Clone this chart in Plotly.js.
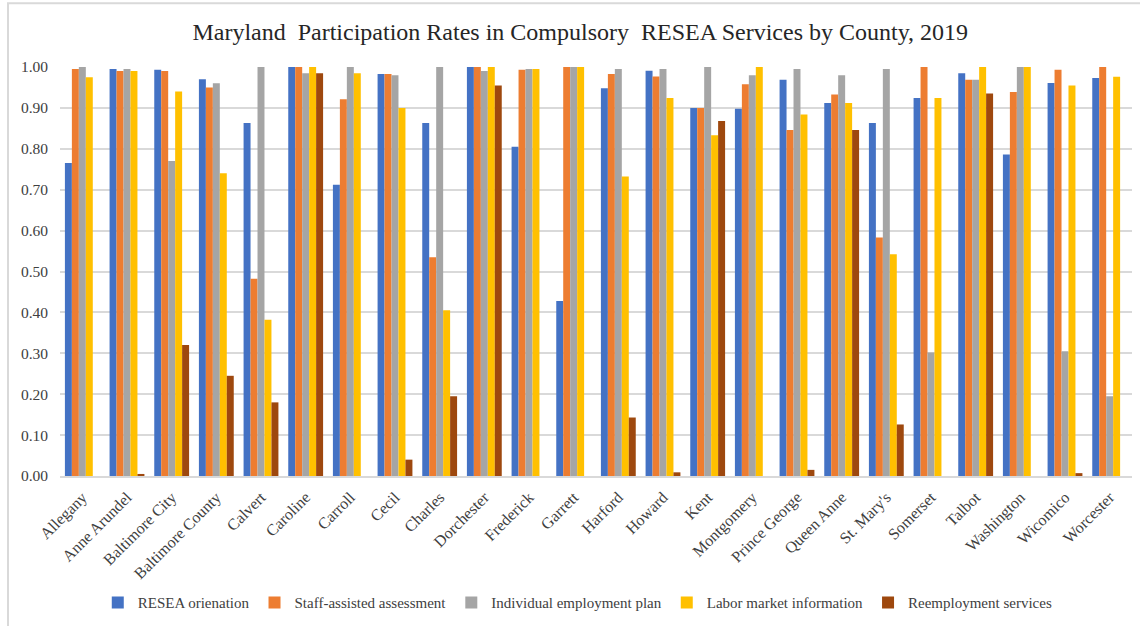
<!DOCTYPE html>
<html>
<head>
<meta charset="utf-8">
<script src="https://cdn.plot.ly/plotly-3.0.1.min.js"></script>
<style>
html,body{margin:0;padding:0;background:#fff;}
#chart{width:1140px;height:626px;}
</style>
</head>
<body>
<div id="chart"></div>
<script>
const counties = ["Allegany","Anne Arundel","Baltimore City","Baltimore County","Calvert","Caroline","Carroll","Cecil","Charles","Dorchester","Frederick","Garrett","Harford","Howard","Kent","Montgomery","Prince George","Queen Anne","St. Mary's","Somerset","Talbot","Washington","Wicomico","Worcester"];

const reseaOrientation = [0.765,0.995,0.993,0.970,0.863,1.000,0.712,0.983,0.863,1.000,0.805,0.428,0.948,0.991,0.900,0.898,0.969,0.912,0.863,0.924,0.985,0.786,0.961,0.973];
const staffAssessment  = [0.995,0.990,0.990,0.950,0.482,1.000,0.921,0.983,0.535,1.000,0.993,1.000,0.983,0.977,0.900,0.958,0.846,0.933,0.583,1.000,0.969,0.939,0.993,1.000];
const employmentPlan   = [1.000,0.995,0.770,0.960,1.000,0.985,1.000,0.980,1.000,0.990,0.995,1.000,0.995,0.995,1.000,0.980,0.995,0.980,0.995,0.302,0.969,1.000,0.305,0.195];
const laborMarketInfo  = [0.975,0.990,0.940,0.740,0.382,1.000,0.985,0.900,0.405,1.000,0.995,1.000,0.732,0.924,0.833,1.000,0.884,0.912,0.542,0.924,1.000,1.000,0.955,0.976];
const reemployment     = [0,0.005,0.320,0.245,0.180,0.985,0,0.040,0.195,0.955,0,0,0.143,0.009,0.868,0,0.015,0.846,0.126,0,0.935,0,0.007,0];

const seriesNames = ["RESEA orienation","Staff-assisted assessment","Individual employment plan","Labor market information","Reemployment services"];
const seriesValues = [reseaOrientation, staffAssessment, employmentPlan, laborMarketInfo, reemployment];
const seriesColors = ["#4472C4","#ED7D31","#A5A5A5","#FFC000","#9E480E"];

const yTicks = [0,0.1,0.2,0.3,0.4,0.5,0.6,0.7,0.8,0.9,1.0];

const traces = seriesNames.map((n,i)=>({
  type:'bar', name:n, x:counties, y:seriesValues[i],
  marker:{color:seriesColors[i], line:{width:0}},
  hoverinfo:'x+y+name'
}));

const serif = 'Liberation Serif, Times New Roman, serif';

const layout = {
  width:1140, height:626,
  margin:{l:60, r:8, t:67, b:149},
  paper_bgcolor:'#fff', plot_bgcolor:'#fff',
  barmode:'group', bargap:0.22, bargroupgap:0,
  title:{text:'Maryland  Participation Rates in Compulsory  RESEA Services by County, 2019',
         font:{family:serif, size:24, color:'#262626'},
         x:0.509, xanchor:'center', y:0.950, yanchor:'middle', xref:'container', yref:'container'},
  font:{family:serif, color:'#404040'},
  xaxis:{type:'category', tickangle:-45, tickfont:{family:serif, size:16, color:'#404040'},
         ticklabelstandoff:4,
         showgrid:false, showline:true, linecolor:'#d9d9d9', linewidth:1.5, ticks:'', zeroline:false, fixedrange:true},
  yaxis:{range:[0,1], tickvals:yTicks, ticktext:yTicks.map(v=>v.toFixed(2)),
         tickfont:{family:serif, size:15.5, color:'#404040'}, ticklabelstandoff:11,
         showgrid:true, gridcolor:'#d9d9d9', gridwidth:1.5, zeroline:false, showline:false, ticks:'', ticklen:0, fixedrange:true},
  showlegend:true,
  legend:{orientation:'h', x:0.483, xanchor:'center', y:-0.307, yanchor:'middle',
          font:{family:serif, size:15, color:'#404040'}, itemwidth:30, traceorder:'normal', itemclick:false},
  shapes:[{type:'rect', xref:'paper', yref:'paper', x0:-0.0485, x1:1.02, y0:-0.45, y1:1.156,
           line:{color:'#d9d9d9', width:2}, fillcolor:'rgba(0,0,0,0)', layer:'below'}]
};

Plotly.newPlot('chart', traces, layout, {displayModeBar:false, staticPlot:false});
</script>
</body>
</html>
